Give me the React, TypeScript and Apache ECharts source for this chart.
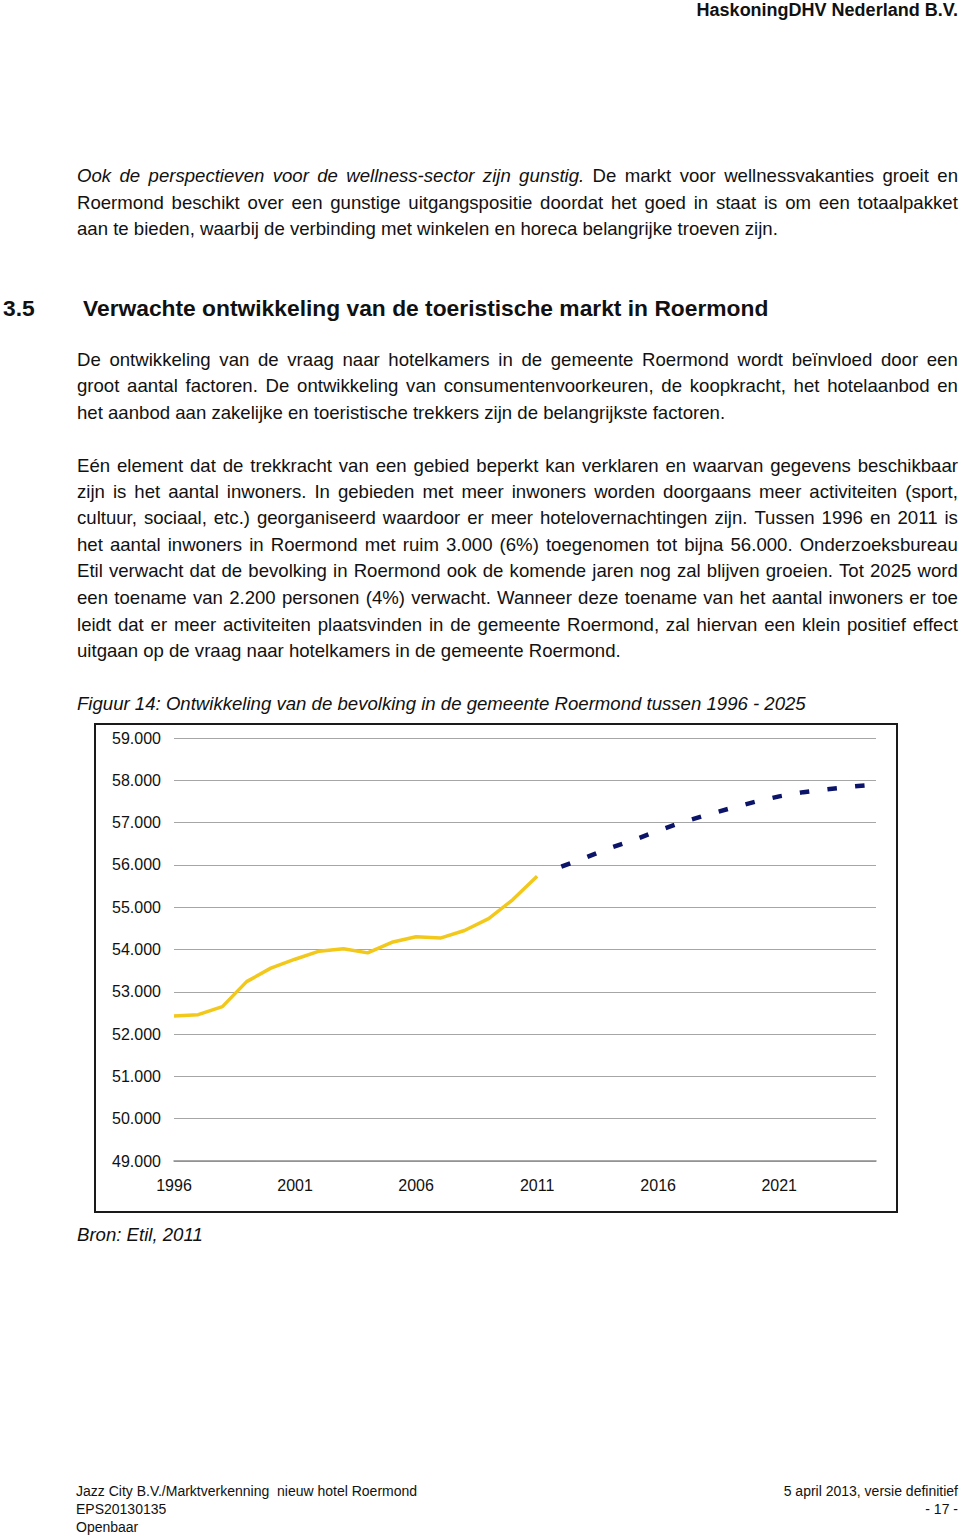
import React, { useEffect, useRef } from "react";
import * as echarts from "echarts";

const years: string[] = [
  "1996", "1997", "1998", "1999", "2000", "2001", "2002", "2003", "2004", "2005",
  "2006", "2007", "2008", "2009", "2010", "2011", "2012", "2013", "2014", "2015",
  "2016", "2017", "2018", "2019", "2020", "2021", "2022", "2023", "2024", "2025",
];

// Observed population 1996-2011
const actualValues: (number | null)[] = [
  52430, 52460, 52650, 53240, 53560, 53770, 53960, 54020, 53920, 54170,
  54300, 54270, 54450, 54730, 55180, 55730,
  null, null, null, null, null, null, null, null, null, null, null, null, null, null,
];

// Forecast population 2012-2025
const forecastValues: (number | null)[] = [
  null, null, null, null, null, null, null, null, null, null,
  null, null, null, null, null, null,
  55960, 56170, 56400, 56590, 56810, 57010, 57180, 57340, 57490, 57620,
  57720, 57790, 57850, 57900,
];

const yMin = 49000;
const yMax = 59000;
const yStep = 1000;

const FONT = '"Liberation Sans", Arial, Helvetica, sans-serif';

type Line = { text: string; center: number; justify: boolean; italicWords?: number };

const para1: Line[] = [
  { text: "Ook de perspectieven voor de wellness-sector zijn gunstig. De markt voor wellnessvakanties groeit en", center: 176, justify: true, italicWords: 8 },
  { text: "Roermond beschikt over een gunstige uitgangspositie doordat het goed in staat is om een totaalpakket", center: 203, justify: true },
  { text: "aan te bieden, waarbij de verbinding met winkelen en horeca belangrijke troeven zijn.", center: 229, justify: false },
];

const para2: Line[] = [
  { text: "De ontwikkeling van de vraag naar hotelkamers in de gemeente Roermond wordt beïnvloed door een", center: 360, justify: true },
  { text: "groot aantal factoren. De ontwikkeling van consumentenvoorkeuren, de koopkracht, het hotelaanbod en", center: 386, justify: true },
  { text: "het aanbod aan zakelijke en toeristische trekkers zijn de belangrijkste factoren.", center: 413, justify: false },
];

const para3: Line[] = [
  { text: "Eén element dat de trekkracht van een gebied beperkt kan verklaren en waarvan gegevens beschikbaar", center: 466, justify: true },
  { text: "zijn is het aantal inwoners. In gebieden met meer inwoners worden doorgaans meer activiteiten (sport,", center: 492, justify: true },
  { text: "cultuur, sociaal, etc.) georganiseerd waardoor er meer hotelovernachtingen zijn. Tussen 1996 en 2011 is", center: 518, justify: true },
  { text: "het aantal inwoners in Roermond met ruim 3.000 (6%) toegenomen tot bijna 56.000. Onderzoeksbureau", center: 545, justify: true },
  { text: "Etil verwacht dat de bevolking in Roermond ook de komende jaren nog zal blijven groeien. Tot 2025 word", center: 571, justify: true },
  { text: "een toename van 2.200 personen (4%) verwacht. Wanneer deze toename van het aantal inwoners er toe", center: 598, justify: true },
  { text: "leidt dat er meer activiteiten plaatsvinden in de gemeente Roermond, zal hiervan een klein positief effect", center: 625, justify: true },
  { text: "uitgaan op de vraag naar hotelkamers in de gemeente Roermond.", center: 651, justify: false },
];

const LH = 26.4;
const FS = 18.6;

function TextLine({ line }: { line: Line }) {
  const words = line.text.split(" ");
  const base: React.CSSProperties = {
    position: "absolute",
    left: 77,
    width: 881,
    top: line.center - LH / 2,
    height: LH,
    lineHeight: LH + "px",
    fontSize: FS,
    fontFamily: FONT,
    color: "#111",
    whiteSpace: "nowrap",
  };
  if (line.justify) {
    return (
      <div style={{ ...base, display: "flex", justifyContent: "space-between" }}>
        {words.map((w, i) => (
          <span key={i} style={{ fontStyle: line.italicWords && i < line.italicWords ? "italic" : "normal" }}>
            {w}
          </span>
        ))}
      </div>
    );
  }
  return <div style={base}>{line.text}</div>;
}

function Chart() {
  const ref = useRef<HTMLDivElement>(null);
  useEffect(() => {
    if (!ref.current) return;
    const chart = echarts.init(ref.current, undefined, { renderer: "svg" });
    chart.setOption({
      animation: false,
      backgroundColor: "#fff",
      textStyle: { fontFamily: FONT },
      grid: { left: 80, right: 22, top: 15, bottom: 52, containLabel: false },
      graphic: [
        {
          type: "rect",
          shape: { x: 1, y: 1, width: 802, height: 488 },
          style: { fill: "none", stroke: "#1a1a1a", lineWidth: 2 },
          silent: true,
        },
      ],
      xAxis: {
        type: "category",
        data: years,
        boundaryGap: false,
        axisLine: { show: true, lineStyle: { color: "#8c8c8c", width: 1.5 } },
        axisTick: { show: false },
        axisLabel: { interval: 4, margin: 16, fontSize: 16, color: "#111", fontFamily: FONT },
        splitLine: { show: false },
      },
      yAxis: {
        type: "value",
        min: yMin,
        max: yMax,
        interval: yStep,
        axisLine: { show: false },
        axisTick: { show: false },
        axisLabel: {
          margin: 13,
          fontSize: 16,
          color: "#111",
          fontFamily: FONT,
          formatter: (v: number) => (v / 1000).toFixed(3),
        },
        splitLine: { show: true, lineStyle: { color: "#a6a6a6", width: 1.2 } },
      },
      series: [
        {
          name: "Bevolking",
          type: "line",
          data: actualValues,
          showSymbol: false,
          symbol: "none",
          connectNulls: false,
          lineStyle: { color: "#F2C81A", width: 3.5 },
          z: 3,
        },
        {
          name: "Prognose",
          type: "line",
          data: forecastValues,
          showSymbol: false,
          symbol: "none",
          connectNulls: false,
          lineStyle: { color: "#0B1468", width: 4.5, type: [9.5, 18.3], cap: "butt" },
          z: 3,
        },
      ],
    });
    return () => chart.dispose();
  }, []);
  return (
    <div
      ref={ref}
      style={{ position: "absolute", left: 94, top: 723, width: 804, height: 490 }}
    />
  );
}

export default function App() {
  const abs = (extra: React.CSSProperties): React.CSSProperties => ({
    position: "absolute",
    fontFamily: FONT,
    color: "#111",
    whiteSpace: "pre",
    ...extra,
  });
  return (
    <div style={{ position: "absolute", left: 0, top: 0, width: 960, height: 1538, background: "#fff", overflow: "hidden" }}>
      <div style={abs({ right: 2, top: 0, fontSize: 18, fontWeight: "bold", lineHeight: "20px" })}>
        HaskoningDHV Nederland B.V.
      </div>

      {para1.map((l, i) => (
        <TextLine key={"p1" + i} line={l} />
      ))}

      <div style={abs({ left: 3, top: 294, fontSize: 22.8, fontWeight: "bold", lineHeight: "28px" })}>3.5</div>
      <div style={abs({ left: 83, top: 294, fontSize: 22.8, fontWeight: "bold", lineHeight: "28px" })}>
        Verwachte ontwikkeling van de toeristische markt in Roermond
      </div>

      {para2.map((l, i) => (
        <TextLine key={"p2" + i} line={l} />
      ))}
      {para3.map((l, i) => (
        <TextLine key={"p3" + i} line={l} />
      ))}

      <div style={abs({ left: 77, top: 704 - LH / 2, fontSize: FS, fontStyle: "italic", lineHeight: LH + "px" })}>
        Figuur 14: Ontwikkeling van de bevolking in de gemeente Roermond tussen 1996 - 2025
      </div>

      <Chart />

      <div style={abs({ left: 77, top: 1235 - LH / 2, fontSize: FS, fontStyle: "italic", lineHeight: LH + "px" })}>
        Bron: Etil, 2011
      </div>

      <div style={abs({ left: 76, top: 1482, fontSize: 14, lineHeight: "18px" })}>
        {"Jazz City B.V./Marktverkenning  nieuw hotel Roermond\nEPS20130135\nOpenbaar"}
      </div>
      <div style={abs({ right: 2, top: 1482, fontSize: 14, lineHeight: "18px", textAlign: "right" })}>
        {"5 april 2013, versie definitief\n- 17 -"}
      </div>
    </div>
  );
}
